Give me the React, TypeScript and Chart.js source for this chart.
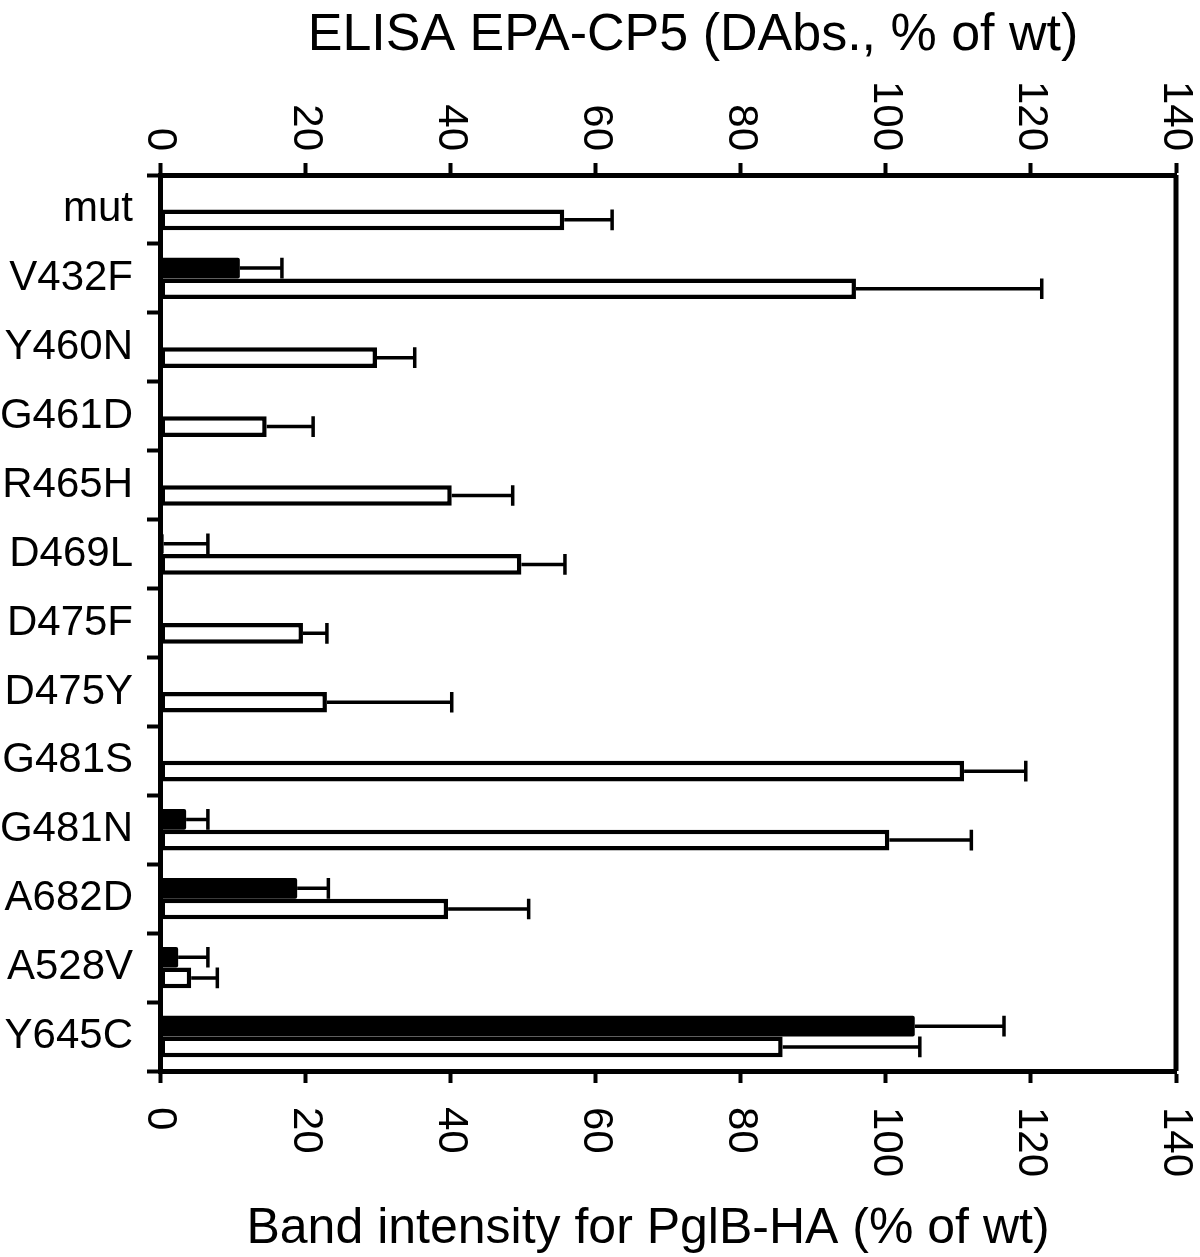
import React, { useEffect, useRef } from "react";
import { Chart, registerables } from "chart.js";

Chart.register(...registerables);

const categories = ["mut", "V432F", "Y460N", "G461D", "R465H", "D469L", "D475F", "D475Y", "G481S", "G481N", "A682D", "A528V", "Y645C"];
const elisaValues = [0, 11.0, 0, 0, 0.3, 0.5, 0, 0, 0, 3.6, 18.9, 2.5, 104.0];
const elisaErrors = [0, 5.8, 0, 0, 0, 6.1, 0, 0, 0, 3.0, 4.3, 4.1, 12.3];
const bandValues = [55.7, 95.9, 29.9, 14.7, 40.2, 49.8, 19.7, 23.0, 110.8, 100.5, 39.7, 4.3, 85.8];
const bandErrors = [6.6, 25.6, 5.2, 6.4, 8.4, 6.0, 3.3, 17.2, 8.5, 11.3, 11.1, 3.6, 18.9];
const tickValues = [0, 20, 40, 60, 80, 100, 120, 140];
const topTitle = "ELISA EPA-CP5 (DAbs., % of wt)";
const bottomTitle = "Band intensity for PglB-HA (% of wt)";

const FONT = "'Liberation Sans', Arial, Helvetica, sans-serif";

export default function App() {
  const canvasRef = useRef<HTMLCanvasElement | null>(null);

  useEffect(() => {
    document.body.style.margin = "0";
    const canvas = canvasRef.current;
    if (!canvas) return;

    const errorBars = {
      id: "errorBars",
      afterDatasetsDraw(chart: any) {
        const ctx = chart.ctx;
        const errs = [elisaErrors, bandErrors];
        const vals = [elisaValues, bandValues];
        ctx.save();
        ctx.strokeStyle = "#000";
        ctx.lineWidth = 3.5;
        ctx.lineCap = "butt";
        chart.data.datasets.forEach((ds: any, i: number) => {
          const meta = chart.getDatasetMeta(i);
          const xs = chart.scales[meta.xAxisID];
          meta.data.forEach((bar: any, j: number) => {
            const e = errs[i][j];
            if (!e) return;
            const { y, height } = bar.getProps(["y", "height"], true);
            const x0 = xs.getPixelForValue(vals[i][j]);
            const x1 = xs.getPixelForValue(vals[i][j] + e);
            ctx.beginPath();
            ctx.moveTo(x0, y);
            ctx.lineTo(x1, y);
            ctx.moveTo(x1, y - height / 2);
            ctx.lineTo(x1, y + height / 2);
            ctx.stroke();
          });
        });
        ctx.restore();
      },
    };

    const decorations = {
      id: "decorations",
      afterDraw(chart: any) {
        const ctx = chart.ctx;
        const area = chart.chartArea;
        ctx.save();
        ctx.strokeStyle = "#000";
        ctx.lineWidth = 5;
        ctx.beginPath();
        ctx.moveTo(area.right, area.top);
        ctx.lineTo(area.right, area.bottom);
        ctx.stroke();

        ctx.fillStyle = "#000";
        const ys = chart.scales.y;
        ctx.font = `42px ${FONT}`;
        ctx.textAlign = "right";
        ctx.textBaseline = "middle";
        categories.forEach((c, i) => {
          ctx.fillText(c, 133, ys.getPixelForValue(i));
        });

        const xb = chart.scales.x;
        const xt = chart.scales.x2;
        ctx.font = `42px ${FONT}`;
        tickValues.forEach((v) => {
          const px = xt.getPixelForValue(v);
          ctx.save();
          ctx.translate(px, 151);
          ctx.rotate(Math.PI / 2);
          ctx.textAlign = "right";
          ctx.textBaseline = "middle";
          ctx.fillText(String(v), 0, 0);
          ctx.restore();

          const pb = xb.getPixelForValue(v);
          ctx.save();
          ctx.translate(pb, 1107);
          ctx.rotate(Math.PI / 2);
          ctx.textAlign = "left";
          ctx.textBaseline = "middle";
          ctx.fillText(String(v), 0, 0);
          ctx.restore();
        });

        ctx.textAlign = "center";
        ctx.textBaseline = "alphabetic";
        ctx.font = `52px ${FONT}`;
        ctx.fillText(topTitle, 693, 50);
        ctx.font = `50px ${FONT}`;
        ctx.fillText(bottomTitle, 648, 1243);
        ctx.restore();
      },
    };

    const axisGrid = (len: number) => ({
      display: true,
      drawOnChartArea: false,
      drawTicks: true,
      tickLength: len,
      tickWidth: 4,
      tickColor: "#000",
    });

    const chart = new Chart(canvas, {
      type: "bar",
      data: {
        labels: categories,
        datasets: [
          {
            label: "ELISA EPA-CP5",
            data: elisaValues,
            xAxisID: "x2",
            backgroundColor: "#000",
            borderColor: "#000",
            borderWidth: 0,
            borderRadius: 2,
            categoryPercentage: 0.6,
            barPercentage: 1.0,
          },
          {
            label: "Band intensity for PglB-HA",
            data: bandValues,
            xAxisID: "x",
            backgroundColor: "#fff",
            borderColor: "#000",
            borderWidth: 4.5,
            borderSkipped: false,
            categoryPercentage: 0.6,
            barPercentage: 1.0,
          },
        ],
      },
      options: {
        indexAxis: "y",
        responsive: false,
        animation: false,
        devicePixelRatio: 1,
        layout: { padding: { top: 163, bottom: 174, left: 147, right: 24 } },
        plugins: {
          legend: { display: false },
          title: { display: false },
          tooltip: { enabled: false },
        },
        scales: {
          x: {
            type: "linear",
            position: "bottom",
            min: 0,
            max: 140,
            ticks: { display: false, stepSize: 20 },
            grid: axisGrid(12),
            border: { display: true, width: 5, color: "#000" },
            afterFit: (s: any) => { s.height = 12; },
          },
          x2: {
            type: "linear",
            position: "top",
            min: 0,
            max: 140,
            ticks: { display: false, stepSize: 20 },
            grid: axisGrid(12),
            border: { display: true, width: 5, color: "#000" },
            afterFit: (s: any) => { s.height = 12; },
          },
          y: {
            type: "category",
            position: "left",
            offset: true,
            ticks: { display: false },
            grid: { ...axisGrid(13), offset: true },
            border: { display: true, width: 5, color: "#000" },
            afterFit: (s: any) => { s.width = 13; },
          },
        },
      } as any,
      plugins: [errorBars, decorations],
    });

    return () => chart.destroy();
  }, []);

  return (
    <div style={{ width: 1200, height: 1257, background: "#fff" }}>
      <canvas ref={canvasRef} width={1200} height={1257} style={{ display: "block" }} />
    </div>
  );
}
